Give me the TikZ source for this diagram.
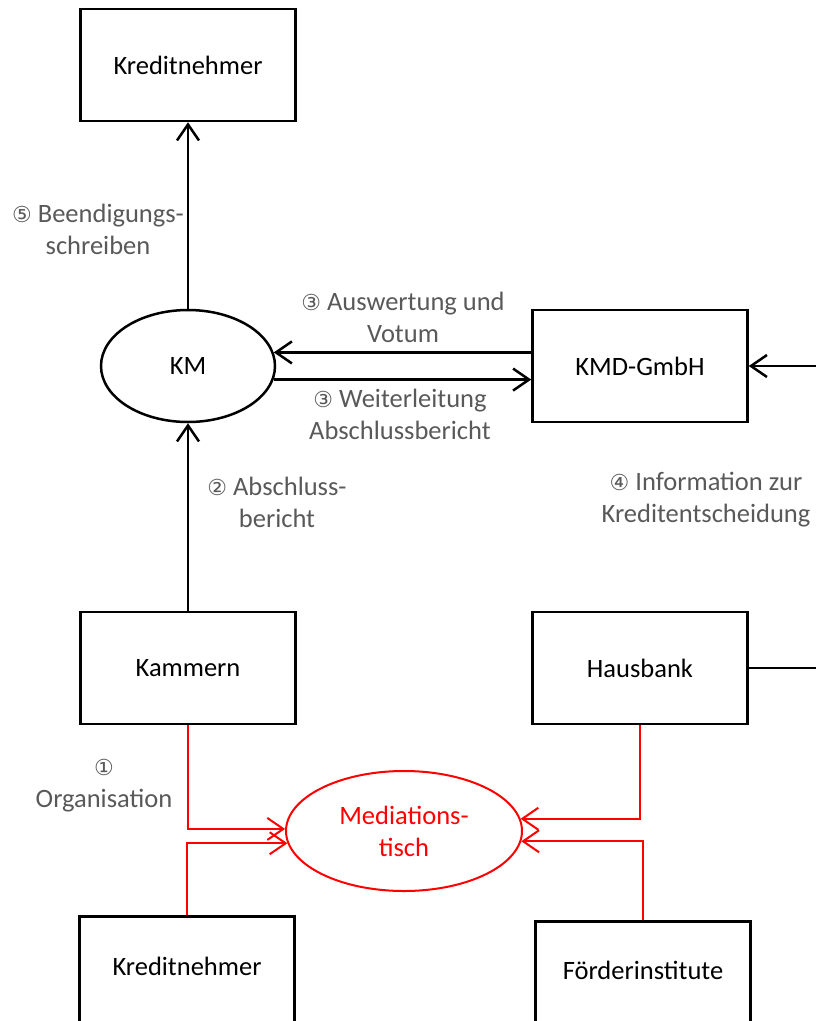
\documentclass[tikz,border=0pt]{standalone}
\usepackage{fontspec}
\setmainfont{Carlito}
\newfontfamily\circfont{DejaVu Sans}
\usetikzlibrary{arrows.meta,shapes.geometric}

\definecolor{labelgrey}{RGB}{89,89,89}
\newcommand{\circnum}[1]{{\circfont\fontsize{22}{32}\selectfont #1}}

\tikzset{
  party/.style={draw, line width=2.5pt, minimum width=215pt, minimum height=112pt, inner sep=0pt},
  hub/.style={ellipse, draw, line width=2.5pt, minimum width=174pt, minimum height=112pt, inner sep=0pt},
  medtable/.style={ellipse, draw=red, text=red, line width=2pt, align=center, minimum width=236pt, minimum height=120pt, inner sep=0pt},
  flow/.style={line width=2.5pt, -{Straight Barb[length=16pt,width=22pt]}},
  redflow/.style={red, line width=2pt, -{Straight Barb[length=16pt,width=22pt]}},
  note/.style={text=labelgrey, align=center}
}

\begin{document}
\begin{tikzpicture}[x=1pt, y=-1pt, every node/.style={font=\fontsize{26.5}{32}\selectfont}]
		
		\useasboundingbox (0,0) rectangle (816,1021);
		\clip (0,0) rectangle (816,1021);
		
		% parties
		\node[party] (kntop) at (188,65) {Kreditnehmer};
		\node[hub] (km) at (188,366) {KM};
		\node[party] (kmd) at (640,366) {KMD-GmbH};
		\node[party] (kam) at (188,668) {Kammern};
		\node[party] (hb) at (640,668) {Hausbank};
		\node[medtable] (med) at (404,831) {Mediations-\\tisch};
		\node[party, anchor=north, text depth=12pt] (knbot) at (187,915) {Kreditnehmer};
		\node[party, anchor=north, text depth=14pt] (foe) at (643,920) {Förderinstitute};
		
		\coordinate (kmdin) at (830,366);
		\coordinate (hbout) at (830,668);
		
		% steps
		\draw[flow] (km) -- (kntop);
		\draw[flow] (kam) -- (km);
		\draw[flow] (kmd.west |- km.9) -- (km.9);
		\draw[flow] (km.-9) -- (kmd.west |- km.-9);
		\draw[flow] (kmdin) -- (kmd.east);
		\draw[line width=2.5pt] (hb.east) -- (hbout);
		
		\draw[redflow] (kam.south) |- (med.179);
		\draw[redflow] (knbot.north) |- (med.186);
		\draw[redflow] (hb.south) |- (med.6);
		\draw[redflow] (foe.north) |- (med.-5);
		
		% labels
		\node[note] (l5) at (98,229) {\circnum{⑤} Beendigungs-\\schreiben};
		\node[note] (l3a) at (403,317) {\circnum{③} Auswertung und\\Votum};
		\node[note] (l3b) at (400,414) {\circnum{③} Weiterleitung\\Abschlussbericht};
		\node[note] (l2) at (277,502) {\circnum{②} Abschluss-\\bericht};
		\node[note] (l4) at (706,500) {\circnum{④} Information zur\\Kreditentscheidung};
		\node[note] (l1) at (104,786) {\circnum{①}\\Organisation};
	\end{tikzpicture}
\end{document}
